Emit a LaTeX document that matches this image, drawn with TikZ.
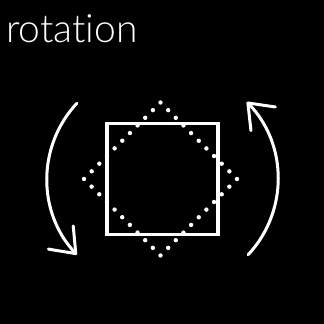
\documentclass[tikz,border=0pt]{standalone}
\usepackage{fontspec}
\setsansfont{Lato}[UprightFont=* Light, Ligatures=NoCommon]
\usetikzlibrary{arrows.meta,calc}

\begin{document}
\begin{tikzpicture}[x=1pt, y=-1pt]
  % Colores
  \definecolor{fondo}{RGB}{0,0,0}       % negro del fondo
  \definecolor{trazo}{RGB}{255,255,255} % blanco de las lineas

  % Centros y medidas
  \coordinate (C) at (162.5,179);  % centro del cuadrado
  \coordinate (D) at (160.5,179);  % centro del rombo
  \coordinate (CL) at (158,179);   % centro del arco izquierdo
  \coordinate (CR) at (167,179);   % centro del arco derecho
  \def\R{111}   % radio de los arcos
  \def\L{55.5}  % medio lado del cuadrado
  \def\H{76.5}  % media diagonal del rombo

  % --- Fondo y marco ---
  \fill[fondo] (0,0) rectangle (324,324);
  \useasboundingbox (0,0) rectangle (324,324);

  \tikzset{
    giro/.style={draw=trazo, line width=3pt, line cap=round,
      -{Straight Barb[length=22pt, width=34pt, round]}},
    punteado/.style={draw=trazo, line width=4.4pt, line cap=round,
      dash pattern=on 0pt off 10.82pt}
  }

  % --- Titulo ---
  \node[anchor=base west, inner sep=0pt, text=trazo,
    font=\sffamily\fontsize{39}{39}\selectfont] (titulo) at (6,42) {rotation};

  % --- Cuadrado y rombo ---
  \draw[trazo, line width=3.3pt] ($(C)+(-\L,-\L)$) rectangle ($(C)+(\L,\L)$);
  \draw[punteado] ($(D)+(0,-\H)$) -- ($(D)+(\H,0)$) -- ($(D)+(0,\H)$)
    -- ($(D)+(-\H,0)$) -- cycle;

  % --- Flechas de giro ---
  \draw[giro] ($(CL)+(223:\R)$) arc[start angle=223, end angle=137, radius=\R];
  \draw[giro] ($(CR)+(43:\R)$) arc[start angle=43, end angle=-44, radius=\R];

\end{tikzpicture}
\end{document}
